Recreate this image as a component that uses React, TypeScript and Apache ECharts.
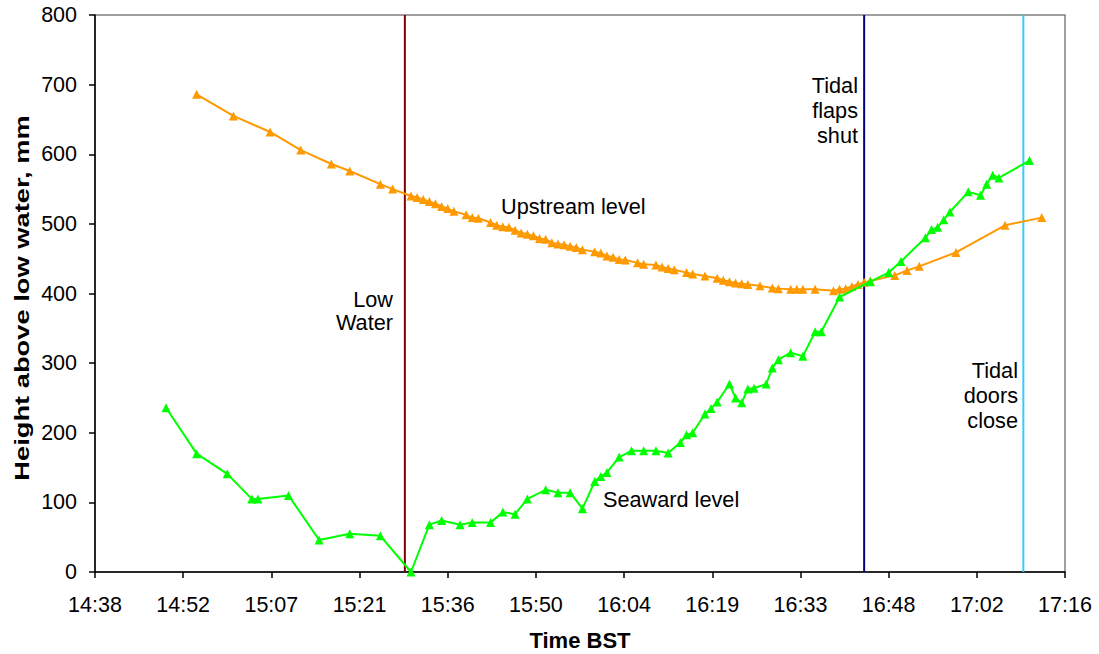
import React, { useEffect, useRef } from "react";
import * as echarts from "echarts";

// ---- Data ----
const xTickLabels = ["14:38", "14:52", "15:07", "15:21", "15:36", "15:50", "16:04", "16:19", "16:33", "16:48", "17:02", "17:16"];

const upstreamTimes = [
  "14:55", "15:01", "15:07", "15:12", "15:17", "15:20", "15:25", "15:27",
  "15:30", "15:31", "15:32", "15:33", "15:34", "15:35", "15:36", "15:37", "15:39", "15:40",
  "15:41", "15:43", "15:44", "15:45", "15:46", "15:47", "15:48", "15:49", "15:50", "15:51",
  "15:52", "15:53", "15:54", "15:55", "15:56", "15:57", "15:58", "16:00", "16:01", "16:02",
  "16:03", "16:04", "16:05", "16:07", "16:08", "16:10", "16:11", "16:12", "16:13", "16:15",
  "16:16", "16:18", "16:20", "16:21", "16:22", "16:23", "16:24", "16:25", "16:27", "16:29",
  "16:30", "16:32", "16:33", "16:34", "16:36", "16:39", "16:40", "16:41", "16:42", "16:43",
  "16:44", "16:45", "16:49", "16:51", "16:53", "16:59", "17:07", "17:13",
];
const upstreamLevels = [
  686, 655, 632, 606, 586, 576, 557, 550,
  540, 538, 535, 532, 529, 525, 522, 518, 513, 509,
  508, 502, 498, 496, 495, 491, 487, 485, 483, 479,
  478, 473, 471, 470, 468, 466, 463, 460, 458, 454,
  452, 449, 448, 444, 442, 441, 438, 436, 434, 430,
  428, 425, 422, 419, 417, 415, 414, 413, 411, 408,
  407, 406, 406, 406, 406, 404, 406, 407, 410, 413,
  416, 418, 426, 433, 439, 459, 498, 509,
];

const seawardTimes = [
  "14:50", "14:55", "15:00", "15:04", "15:05", "15:10", "15:15", "15:20", "15:25", "15:30",
  "15:33", "15:35", "15:38", "15:40", "15:43", "15:45", "15:47", "15:49", "15:52", "15:54",
  "15:56", "15:58", "16:00", "16:01", "16:02", "16:04", "16:06", "16:08", "16:10", "16:12",
  "16:14", "16:15", "16:16", "16:18", "16:19", "16:20", "16:22", "16:23", "16:24", "16:25",
  "16:26", "16:28", "16:29", "16:30", "16:32", "16:34", "16:36", "16:37", "16:40", "16:45",
  "16:48", "16:50", "16:54", "16:55", "16:56", "16:57", "16:58", "17:01", "17:03", "17:04",
  "17:05", "17:06", "17:11",
];
const seawardLevels = [
  236, 170, 141, 105, 105, 110, 46, 55, 52, 0,
  68, 74, 68, 71, 71, 86, 83, 105, 118, 114,
  114, 91, 130, 137, 143, 165, 174, 174, 174, 171,
  186, 197, 200, 227, 235, 244, 270, 250, 243, 263,
  264, 270, 293, 305, 315, 310, 345, 345, 395, 417,
  430, 446, 480, 492, 495, 506, 517, 546, 541, 557,
  570, 566, 591,
];

const eventTimes = ["15:29", "16:44", "17:10"];
const eventLabels = ["Low\nWater", "Tidal\nflaps\nshut", "Tidal\ndoors\nclose"];

const yMin = 0;
const yMax = 800;
const yStep = 100;

// x axis unit: 1/100 of a day (14.4 minutes), as in the spreadsheet
const DAY_UNIT_MIN = 14.4;
const toX = (t: string) => {
  const [h, m] = t.split(":").map(Number);
  return (h * 60 + m) / DAY_UNIT_MIN;
};

const FONT = '"Liberation Sans", Arial, sans-serif';

export default function App() {
  const ref = useRef<HTMLDivElement>(null);

  useEffect(() => {
    if (!ref.current) return;
    const chart = echarts.init(ref.current, undefined, { renderer: "svg" });

    const upstream = upstreamTimes.map((t, i) => [toX(t), upstreamLevels[i]]);
    const seaward = seawardTimes.map((t, i) => [toX(t), seawardLevels[i]]);
    const eventColors = ["#800000", "#000080", "#33CCFF"];

    const eventSeries = eventTimes.map((t, i) => ({
      type: "line",
      data: [[toX(t), yMin], [toX(t), yMax]],
      symbol: "none",
      silent: true,
      z: 1,
      lineStyle: { color: eventColors[i], width: 2 },
    }));

    const textStyle = (extra: any) => ({
      fill: "#000",
      font: `21.7px ${FONT}`,
      lineHeight: 25,
      ...extra,
    });

    chart.setOption({
      animation: false,
      grid: {
        left: 95,
        top: 15,
        width: 970,
        height: 557,
        show: true,
        borderColor: "#808080",
        borderWidth: 1.5,
        backgroundColor: "transparent",
      },
      xAxis: {
        type: "value",
        min: 61,
        max: 72,
        interval: 1,
        axisLine: { show: true, onZero: false, lineStyle: { color: "#000", width: 1.5 } },
        axisTick: { show: true, length: 6, lineStyle: { color: "#000", width: 1.5 } },
        splitLine: { show: false },
        axisLabel: {
          margin: 22,
          color: "#000",
          fontSize: 21.5,
          fontFamily: FONT,
          showMinLabel: true,
          showMaxLabel: true,
          formatter: (v: number) => xTickLabels[Math.round(v - 61)] ?? "",
        },
      },
      yAxis: {
        type: "value",
        min: yMin,
        max: yMax,
        interval: yStep,
        axisLine: { show: true, lineStyle: { color: "#000", width: 1.5 } },
        axisTick: { show: true, length: 6, lineStyle: { color: "#000", width: 1.5 } },
        splitLine: { show: false },
        axisLabel: {
          margin: 18,
          color: "#000",
          fontSize: 21.5,
          fontFamily: FONT,
        },
      },
      series: [
        ...eventSeries,
        {
          name: "Upstream level",
          type: "line",
          data: upstream,
          symbol: "triangle",
          symbolSize: 9,
          z: 3,
          itemStyle: { color: "#FF9900" },
          lineStyle: { color: "#FF9900", width: 2 },
        },
        {
          name: "Seaward level",
          type: "line",
          data: seaward,
          symbol: "triangle",
          symbolSize: 9,
          z: 4,
          itemStyle: { color: "#00FF00" },
          lineStyle: { color: "#00FF00", width: 2 },
        },
      ],
      graphic: [
        {
          type: "text",
          x: 22,
          y: 298,
          rotation: Math.PI / 2,
          scaleX: 1.3,
          style: {
            text: "Height above low water, mm",
            fill: "#000",
            font: `bold 21px ${FONT}`,
            align: "center",
            verticalAlign: "middle",
          },
        },
        {
          type: "text",
          x: 580,
          y: 640,
          style: {
            text: "Time BST",
            fill: "#000",
            font: `bold 22px ${FONT}`,
            align: "center",
            verticalAlign: "middle",
          },
        },
        { type: "text", x: 501, y: 206, style: textStyle({ text: "Upstream level", align: "left", verticalAlign: "middle" }) },
        { type: "text", x: 603, y: 499, style: textStyle({ text: "Seaward level", align: "left", verticalAlign: "middle" }) },
        { type: "text", x: 393, y: 311, style: textStyle({ text: eventLabels[0], align: "right", verticalAlign: "middle", lineHeight: 23 }) },
        { type: "text", x: 858, y: 110, style: textStyle({ text: eventLabels[1], align: "right", verticalAlign: "middle" }) },
        { type: "text", x: 1018, y: 395, style: textStyle({ text: eventLabels[2], align: "right", verticalAlign: "middle" }) },
      ],
    });

    return () => chart.dispose();
  }, []);

  return (
    <div
      ref={ref}
      style={{ position: "fixed", left: 0, top: 0, width: 1099, height: 654, background: "#fff" }}
    />
  );
}
